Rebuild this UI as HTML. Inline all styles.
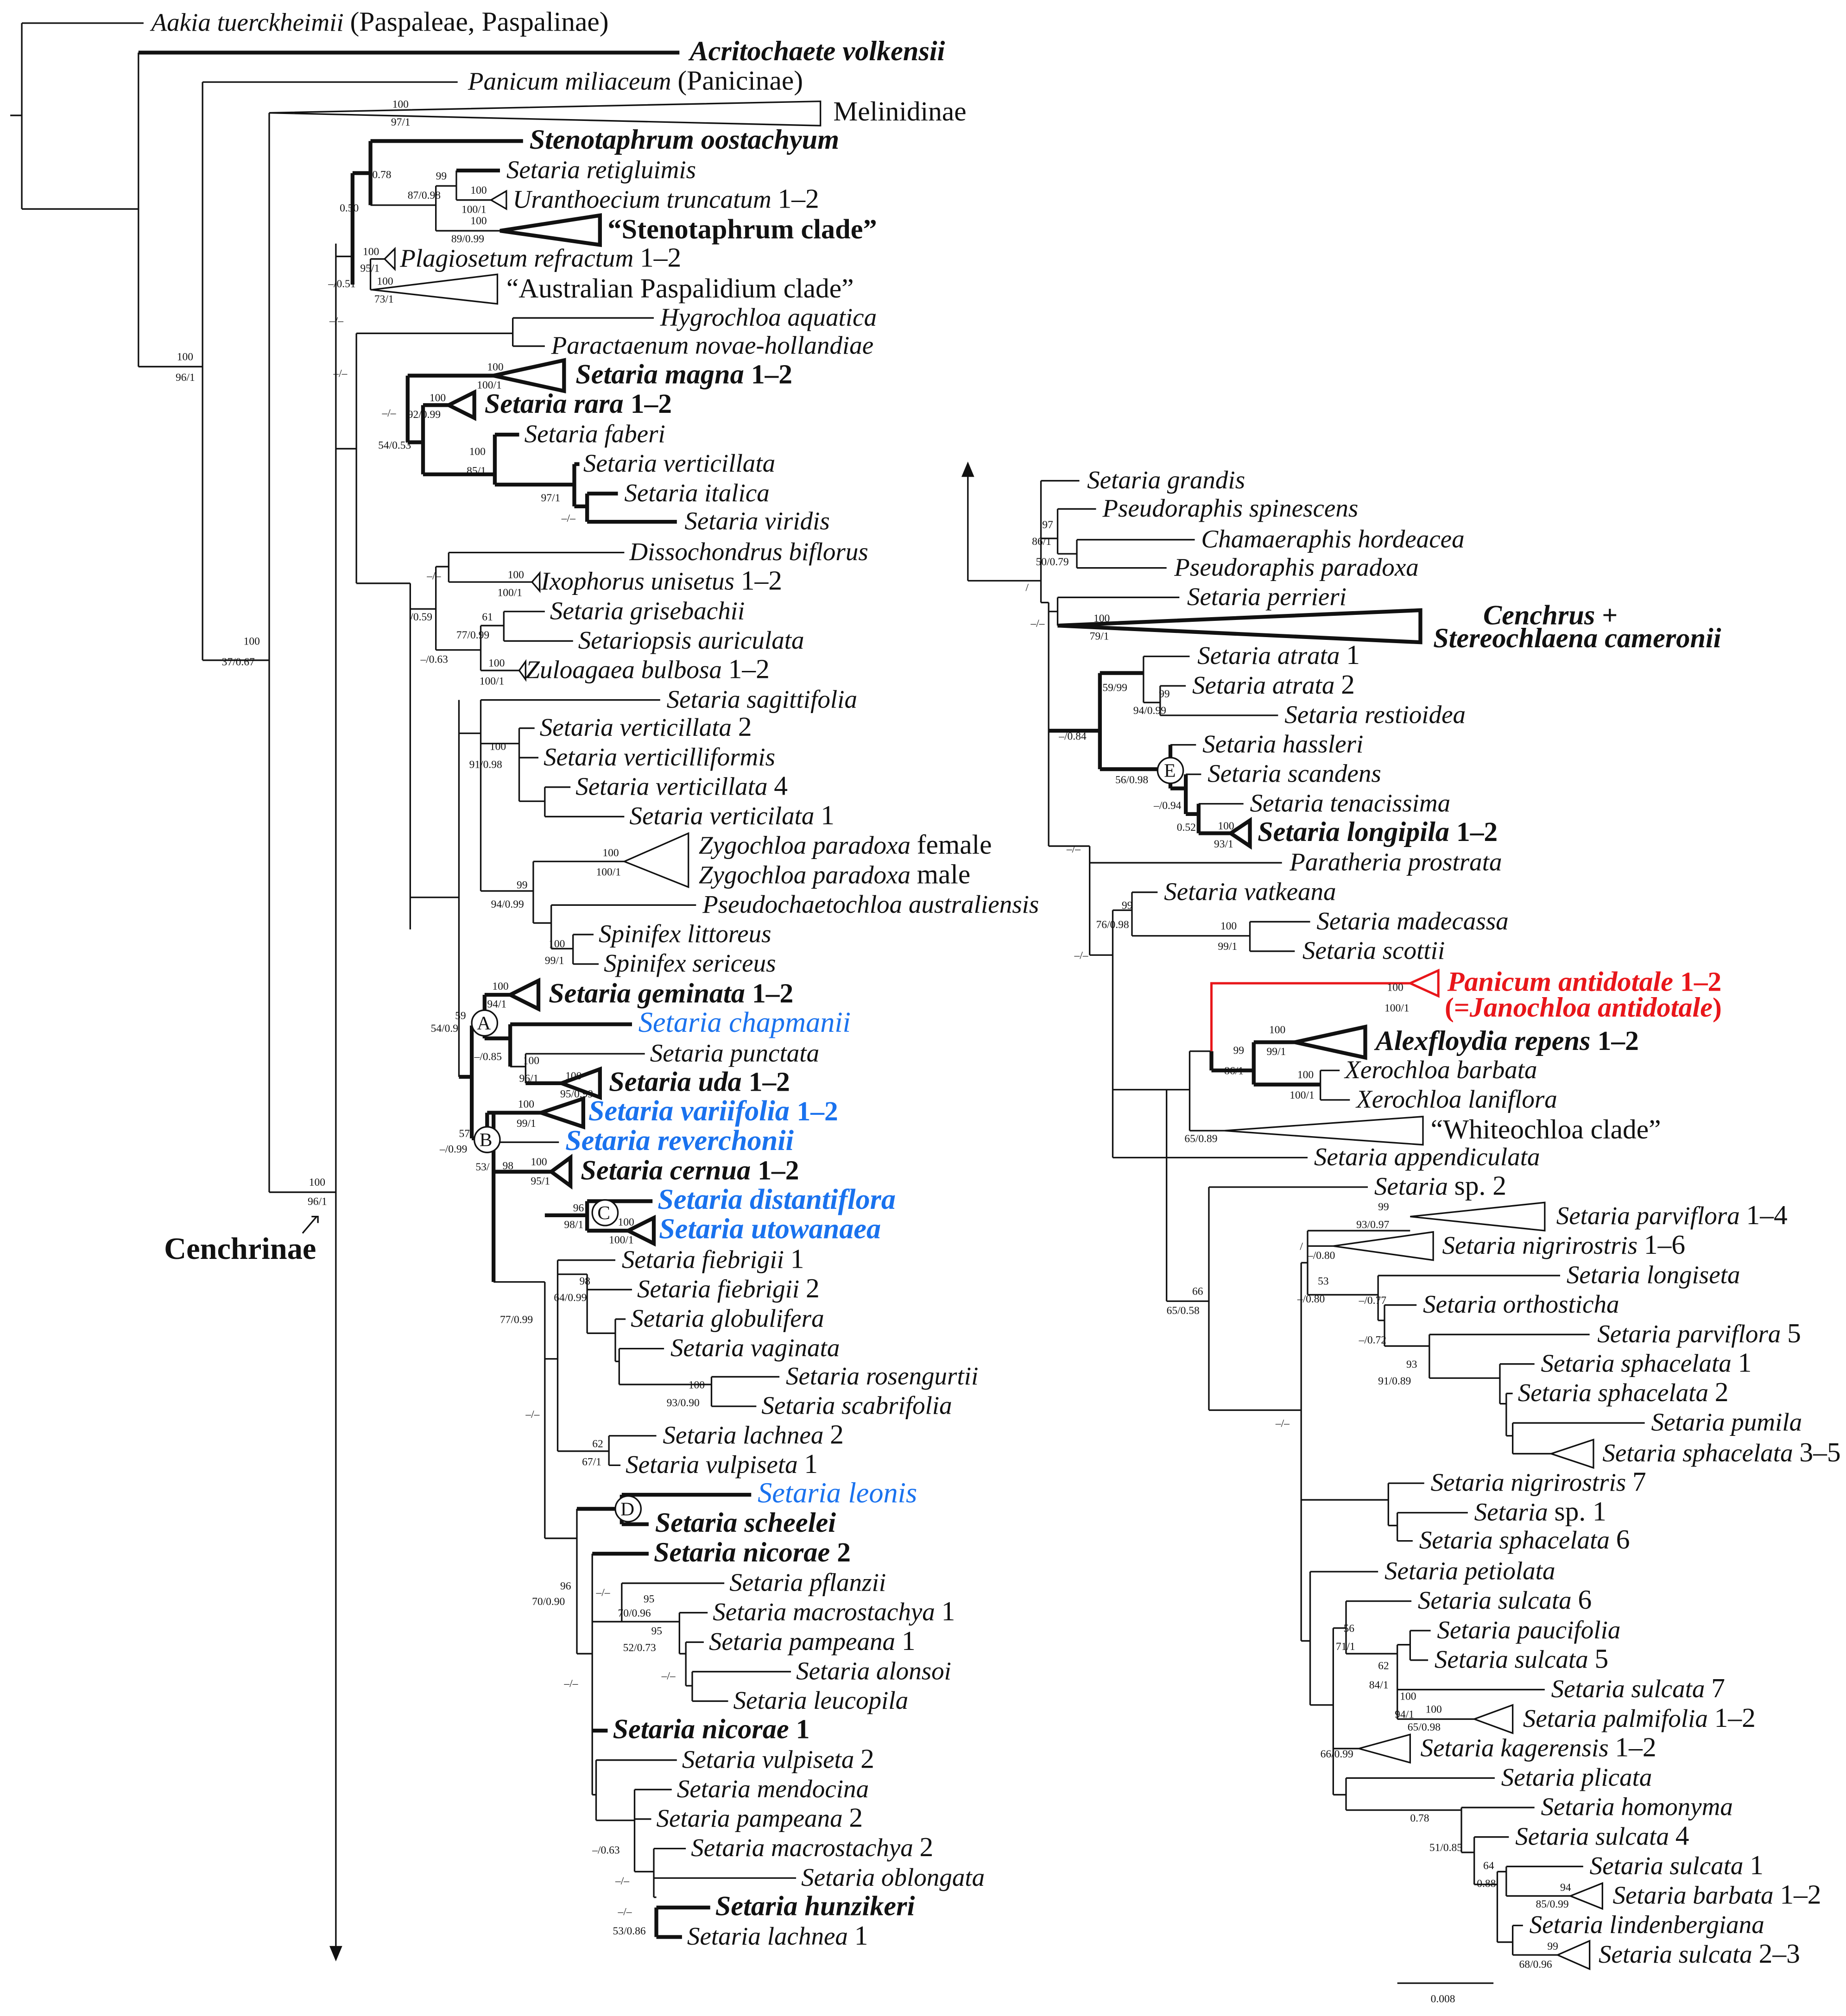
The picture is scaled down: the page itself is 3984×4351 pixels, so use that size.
<!DOCTYPE html>
<html><head><meta charset="utf-8"><style>
html,body{margin:0;padding:0;background:#fff}
svg{display:block}
text{font-family:"Liberation Serif",serif;font-size:19.9px;font-style:italic;fill:#111}
.n{font-style:normal;font-size:21.5px}
.b{font-weight:bold;font-size:21.8px}
.s{font-size:8.5px;font-style:normal}
.bl{fill:#1a72ee;font-weight:bold;font-size:22.5px}
.rd{fill:#e8161a;font-weight:bold;font-size:21.8px}
</style></head><body>
<svg width="3984" height="4351" viewBox="0 0 1440 1572.6" xmlns="http://www.w3.org/2000/svg">
<g fill="none" stroke="#111" stroke-width="1.2">
<path d="M17 18V163M8 90H17M17 18H112M17 163H108M108 41V286M108 286H158M158 64V515M158 64H357M158 515H210M210 88V930M210 930H262M262 190V1522M262 200H275"/>
<path d="M289 202V226M289 202H300M289 226H290M289 160H340M340 145V180M340 145H356M356 133V156M356 156H383M340 180H390M278 260V455M262 350H278M278 260H400M400 248V270M400 248H510M400 270H425"/>
<path d="M278 455H320M320 455V725M320 475H340M340 442V507M340 442H350M350 431V454M350 431H487M350 454H415M340 507H375M375 488V523M375 488H393M393 477V500M393 477H425M393 500H447M375 523H405"/>
<path d="M320 700H358M358 546V840M358 572H375M375 546V695M375 546H515M375 580H405M405 568V625M405 568H417M405 591H420M405 625H425M425 614V637M425 614H445M425 637H487M375 695H416M416 672V720M416 672H487M416 720H430M430 706V740M430 706H543M430 740H447M447 729V752M447 729H463M447 752H467"/>
<path d="M398 832H410M410 822V845M410 822H503M385 891H436M385 1000H425M425 1000V1200M425 1060H435M435 983V1132M435 983H480M435 994H458M458 994V1040M458 1006H493M458 1040H480M480 1029V1062M480 1029H488M480 1062H483M483 1052V1080M483 1052H518M483 1080H555M555 1074V1097M555 1074H608M555 1097H590M435 1132H475M475 1120V1143M475 1120H512M475 1143H484"/>
<path d="M425 1200H450M450 1177V1290M450 1290H462M462 1212V1400M462 1265H485M485 1235V1265M485 1235H565M485 1265H530M530 1258V1290M530 1258H552M530 1290H535M535 1281V1315M535 1281H549M535 1315H540M540 1304V1327M540 1304H617M540 1327H568M462 1400H465M465 1373V1420M465 1373H528M465 1420H495M495 1396V1460M495 1396H524M495 1419H508M495 1460H510M510 1442V1480M510 1442H535M510 1465H621M510 1480H512"/>
<path d="M755 368V453M755 453H812M812 375V470M812 375H842M812 420H825M825 397V432M825 397H855M825 432H840M840 421V443M840 421H932M840 443H910M812 470H818M818 470V660M818 477H825M825 466V488M825 466H920"/>
<path d="M892 512V548M892 512H928M892 548H905M905 535V558M905 535H925M905 558H997M913 581H933M925 604H937M935 627H970"/>
<path d="M818 660H850M850 660V745M850 673H1000M850 745H868M868 710V903M868 710H883M883 696V730M883 696H903M883 730H975M975 719V742M975 719H1022M975 742H1010M868 850H910M910 850V1015M910 850H928M928 820V882M928 820H945M928 882H955M1030 835V858M1030 835H1045M1030 858H1053M868 903H1020"/>
<path d="M910 1015H943M943 926V1100M943 926H1067M943 1100H1015M1015 985V1280M1015 985H1020M1020 960V1010M1020 960H1100M1020 972H1040M1020 1010H1075M1075 995V1030M1075 995H1217M1075 1030H1080M1080 1018V1050M1080 1018H1105M1080 1050H1115M1115 1041V1075M1115 1041H1240M1115 1075H1170M1170 1064V1095M1170 1064H1197M1170 1095H1175M1175 1087V1120M1175 1087H1180M1175 1120H1180M1180 1110V1134M1180 1110H1283M1180 1134H1210"/>
<path d="M1015 1170H1083M1083 1157V1190M1083 1157H1111M1083 1190H1090M1090 1180V1202M1090 1180H1145M1090 1202H1102M1015 1280H1022M1022 1226V1330M1022 1226H1075M1022 1330H1040M1040 1270V1400M1040 1270H1050M1050 1249V1290M1050 1249H1101M1050 1290H1090M1090 1283V1341M1090 1283H1100M1100 1272V1295M1100 1272H1116M1100 1295H1114M1090 1318H1205M1090 1341H1150M1040 1364H1060M1040 1400H1050M1050 1387V1412M1050 1387H1166M1050 1412H1140M1140 1410V1445M1140 1410H1197M1140 1445H1150M1150 1433V1470M1150 1433H1177M1150 1470H1168M1168 1460V1515M1168 1460H1175M1175 1456V1479M1175 1456H1235M1175 1479H1225M1168 1515H1180M1180 1502V1525M1180 1502H1188M1180 1525H1215"/>
<path d="M1090 1547H1165"/>
</g>
<g fill="none" stroke="#111" stroke-width="3">
<path d="M108 41H530M289 110V160M289 110H408M275 135H289M275 135V222M356 133H390M318 293V345M318 293H385M318 345H330M330 316V370M330 316H350M330 370H386M386 339V378M386 339H405M386 378H448M448 362V395M448 362H452M448 395H458M458 385V407M458 385H482M458 407H528"/>
<path d="M358 840H368M368 800V888M368 800H378M378 776V810M378 776H398M378 810H398M398 799V832M398 799H493M410 845H438M368 888H380M380 868V888M380 868H422M385 868V1000M385 914H430M425 948H458M458 937V960M458 937H509M458 960H490M450 1177H485M485 1166V1189M485 1166H586M485 1189H506M462 1212H506M462 1350H474M512 1488V1511M512 1488H554M512 1511H532"/>
<path d="M825 488H1108M858 525V600M818 570H858M858 525H892M858 600H913M913 581V615M913 615H925M925 604V635M925 635H935M935 627V650M935 650H960M945 820V835M945 835H978M978 813V846M978 813H1010M978 846H1030"/>
</g>
<g fill="#fff" stroke="#111" stroke-width="1.2">
<polygon points="640,79 640,98 210,88"/>
<polygon points="383,156 395,149 395,163"/>
<polygon points="300,202 308,194 308,210"/>
<polygon points="290,226 388,214 388,237"/>
<polygon points="415,454 421,447 421,461"/>
<polygon points="405,523 410,516 410,530"/>
<polygon points="487,672 537,650 537,692"/>
<polygon points="955,882 1110,871 1110,893"/>
<polygon points="1100,949 1205,938 1205,960"/>
<polygon points="1040,972 1118,961 1118,983"/>
<polygon points="1210,1134 1243,1123 1243,1145"/>
<polygon points="1150,1341 1180,1330 1180,1352"/>
<polygon points="1060,1364 1100,1353 1100,1375"/>
<polygon points="1225,1479 1250,1469 1250,1489"/>
<polygon points="1215,1525 1240,1514 1240,1536"/>
</g>
<g fill="#fff" stroke="#111" stroke-width="3">
<polygon points="390,180 468,168 468,191"/>
<polygon points="385,293 440,281 440,305"/>
<polygon points="350,316 370,306 370,326"/>
<polygon points="398,776 420,765 420,787"/>
<polygon points="438,845 468,834 468,856"/>
<polygon points="422,868 455,857 455,879"/>
<polygon points="430,914 445,903 445,925"/>
<polygon points="490,960 510,950 510,970"/>
<polygon points="825,488 1108,476 1108,501"/>
<polygon points="960,650 975,640 975,660"/>
<polygon points="1010,813 1065,801 1065,825"/>
</g>
<path d="M945 820V767H1100" fill="none" stroke="#e8161a" stroke-width="1.8"/>
<polygon points="1100,767 1122,757 1122,777" fill="#fff" stroke="#e8161a" stroke-width="1.8"/>
<polygon points="262,1530 257,1518 267,1518" fill="#111"/>
<polygon points="755,360 750,372 760,372" fill="#111"/>
<path d="M236 962L247 949M243 949H248V954" fill="none" stroke="#111" stroke-width="1.2"/>
<g fill="#fff" stroke="#111" stroke-width="1.2">
<circle cx="378" cy="798" r="10"/><circle cx="380" cy="889" r="10"/><circle cx="472" cy="946" r="10"/><circle cx="490" cy="1177" r="10"/><circle cx="913" cy="601" r="10"/>
</g>
<text class="n" x="372" y="803" style="font-size:15px">A</text><text class="n" x="374" y="894" style="font-size:15px">B</text><text class="n" x="466" y="951" style="font-size:15px">C</text><text class="n" x="484" y="1182" style="font-size:15px">D</text><text class="n" x="908" y="606" style="font-size:15px">E</text>
<text x="118" y="24">Aakia tuerckheimii <tspan class="n">(Paspaleae, Paspalinae)</tspan></text>
<text class="b" x="538" y="47">Acritochaete volkensii</text>
<text x="365" y="70">Panicum miliaceum <tspan class="n">(Panicinae)</tspan></text>
<text class="n" x="650" y="94">Melinidinae</text>
<text class="b" x="413" y="116">Stenotaphrum oostachyum</text>
<text x="395" y="139">Setaria retigluimis</text>
<text x="400" y="162">Uranthoecium truncatum <tspan class="n">1–2</tspan></text>
<text class="n b" x="474" y="186">“Stenotaphrum clade”</text>
<text x="312" y="208">Plagiosetum refractum <tspan class="n">1–2</tspan></text>
<text class="n" x="395" y="232">“Australian Paspalidium clade”</text>
<text x="515" y="254">Hygrochloa aquatica</text>
<text x="430" y="276">Paractaenum novae-hollandiae</text>
<text class="b" x="449" y="299">Setaria magna <tspan class="n">1–2</tspan></text>
<text class="b" x="378" y="322">Setaria rara <tspan class="n">1–2</tspan></text>
<text x="409" y="345">Setaria faberi</text>
<text x="455" y="368">Setaria verticillata</text>
<text x="487" y="391">Setaria italica</text>
<text x="534" y="413">Setaria viridis</text>
<text x="491" y="437">Dissochondrus biflorus</text>
<text x="422" y="460">Ixophorus unisetus <tspan class="n">1–2</tspan></text>
<text x="429" y="483">Setaria grisebachii</text>
<text x="451" y="506">Setariopsis auriculata</text>
<text x="410" y="529">Zuloagaea bulbosa <tspan class="n">1–2</tspan></text>
<text x="520" y="552">Setaria sagittifolia</text>
<text x="421" y="574">Setaria verticillata <tspan class="n">2</tspan></text>
<text x="424" y="597">Setaria verticilliformis</text>
<text x="449" y="620">Setaria verticillata <tspan class="n">4</tspan></text>
<text x="491" y="643">Setaria verticilata <tspan class="n">1</tspan></text>
<text x="545" y="666">Zygochloa paradoxa <tspan class="n">female</tspan></text>
<text x="545" y="689">Zygochloa paradoxa <tspan class="n">male</tspan></text>
<text x="548" y="712">Pseudochaetochloa australiensis</text>
<text x="467" y="735">Spinifex littoreus</text>
<text x="471" y="758">Spinifex sericeus</text>
<text class="b" x="428" y="782">Setaria geminata <tspan class="n">1–2</tspan></text>
<text class="bl" x="498" y="805" style="font-weight:normal">Setaria chapmanii</text>
<text x="507" y="828">Setaria punctata</text>
<text class="b" x="475" y="851">Setaria uda <tspan class="n">1–2</tspan></text>
<text class="bl" x="459" y="874">Setaria variifolia <tspan class="n">1–2</tspan></text>
<text class="bl" x="441" y="897">Setaria reverchonii</text>
<text class="b" x="453" y="920">Setaria cernua <tspan class="n">1–2</tspan></text>
<text class="bl" x="513" y="943">Setaria distantiflora</text>
<text class="bl" x="514" y="966">Setaria utowanaea</text>
<text x="485" y="989">Setaria fiebrigii <tspan class="n">1</tspan></text>
<text x="497" y="1012">Setaria fiebrigii <tspan class="n">2</tspan></text>
<text x="492" y="1035">Setaria globulifera</text>
<text x="523" y="1058">Setaria vaginata</text>
<text x="613" y="1080">Setaria rosengurtii</text>
<text x="594" y="1103">Setaria scabrifolia</text>
<text x="517" y="1126">Setaria lachnea <tspan class="n">2</tspan></text>
<text x="488" y="1149">Setaria vulpiseta <tspan class="n">1</tspan></text>
<text class="bl" x="591" y="1172" style="font-weight:normal">Setaria leonis</text>
<text class="b" x="511" y="1195">Setaria scheelei</text>
<text class="b" x="510" y="1218">Setaria nicorae <tspan class="n">2</tspan></text>
<text x="569" y="1241">Setaria pflanzii</text>
<text x="556" y="1264">Setaria macrostachya <tspan class="n">1</tspan></text>
<text x="553" y="1287">Setaria pampeana <tspan class="n">1</tspan></text>
<text x="621" y="1310">Setaria alonsoi</text>
<text x="572" y="1333">Setaria leucopila</text>
<text class="b" x="478" y="1356">Setaria nicorae <tspan class="n">1</tspan></text>
<text x="532" y="1379">Setaria vulpiseta <tspan class="n">2</tspan></text>
<text x="528" y="1402">Setaria mendocina</text>
<text x="512" y="1425">Setaria pampeana <tspan class="n">2</tspan></text>
<text x="539" y="1448">Setaria macrostachya <tspan class="n">2</tspan></text>
<text x="625" y="1471">Setaria oblongata</text>
<text class="b" x="558" y="1494">Setaria hunzikeri</text>
<text x="536" y="1517">Setaria lachnea <tspan class="n">1</tspan></text>
<text class="n b" x="128" y="982" style="font-size:24px">Cenchrinae</text>
<text x="848" y="381">Setaria grandis</text>
<text x="860" y="403">Pseudoraphis spinescens</text>
<text x="937" y="427">Chamaeraphis hordeacea</text>
<text x="916" y="449">Pseudoraphis paradoxa</text>
<text x="926" y="472">Setaria perrieri</text>
<text class="b" x="1157" y="487">Cenchrus <tspan class="n">+</tspan></text>
<text class="b" x="1118" y="505">Stereochlaena cameronii</text>
<text x="934" y="518">Setaria atrata <tspan class="n">1</tspan></text>
<text x="930" y="541">Setaria atrata <tspan class="n">2</tspan></text>
<text x="1002" y="564">Setaria restioidea</text>
<text x="938" y="587">Setaria hassleri</text>
<text x="942" y="610">Setaria scandens</text>
<text x="975" y="633">Setaria tenacissima</text>
<text class="b" x="981" y="656">Setaria longipila <tspan class="n">1–2</tspan></text>
<text x="1006" y="679">Paratheria prostrata</text>
<text x="908" y="702">Setaria vatkeana</text>
<text x="1027" y="725">Setaria madecassa</text>
<text x="1016" y="748">Setaria scottii</text>
<text class="rd" x="1129" y="773">Panicum antidotale <tspan class="n">1–2</tspan></text>
<text class="rd" x="1127" y="793"><tspan class="n">(=</tspan>Janochloa antidotale<tspan class="n">)</tspan></text>
<text class="b" x="1073" y="819">Alexfloydia repens <tspan class="n">1–2</tspan></text>
<text x="1049" y="841">Xerochloa barbata</text>
<text x="1058" y="864">Xerochloa laniflora</text>
<text class="n" x="1116" y="888">“Whiteochloa clade”</text>
<text x="1025" y="909">Setaria appendiculata</text>
<text x="1072" y="932">Setaria <tspan class="n">sp. 2</tspan></text>
<text x="1214" y="955">Setaria parviflora <tspan class="n">1–4</tspan></text>
<text x="1125" y="978">Setaria nigrirostris <tspan class="n">1–6</tspan></text>
<text x="1222" y="1001">Setaria longiseta</text>
<text x="1110" y="1024">Setaria orthosticha</text>
<text x="1246" y="1047">Setaria parviflora <tspan class="n">5</tspan></text>
<text x="1202" y="1070">Setaria sphacelata <tspan class="n">1</tspan></text>
<text x="1184" y="1093">Setaria sphacelata <tspan class="n">2</tspan></text>
<text x="1288" y="1116">Setaria pumila</text>
<text x="1250" y="1140">Setaria sphacelata <tspan class="n">3–5</tspan></text>
<text x="1116" y="1163">Setaria nigrirostris <tspan class="n">7</tspan></text>
<text x="1150" y="1186">Setaria <tspan class="n">sp. 1</tspan></text>
<text x="1107" y="1208">Setaria sphacelata <tspan class="n">6</tspan></text>
<text x="1080" y="1232">Setaria petiolata</text>
<text x="1106" y="1255">Setaria sulcata <tspan class="n">6</tspan></text>
<text x="1121" y="1278">Setaria paucifolia</text>
<text x="1119" y="1301">Setaria sulcata <tspan class="n">5</tspan></text>
<text x="1210" y="1324">Setaria sulcata <tspan class="n">7</tspan></text>
<text x="1188" y="1347">Setaria palmifolia <tspan class="n">1–2</tspan></text>
<text x="1108" y="1370">Setaria kagerensis <tspan class="n">1–2</tspan></text>
<text x="1171" y="1393">Setaria plicata</text>
<text x="1202" y="1416">Setaria homonyma</text>
<text x="1182" y="1439">Setaria sulcata <tspan class="n">4</tspan></text>
<text x="1240" y="1462">Setaria sulcata <tspan class="n">1</tspan></text>
<text x="1258" y="1485">Setaria barbata <tspan class="n">1–2</tspan></text>
<text x="1193" y="1508">Setaria lindenbergiana</text>
<text x="1247" y="1531">Setaria sulcata <tspan class="n">2–3</tspan></text>
<g>
<text class="s" x="1116" y="1562">0.008</text>
<text class="s" x="306" y="84">100</text><text class="s" x="305" y="98">97/1</text>
<text class="s" x="138" y="281">100</text><text class="s" x="137" y="297">96/1</text>
<text class="s" x="190" y="503">100</text><text class="s" x="173" y="519">37/0.67</text>
<text class="s" x="241" y="925">100</text><text class="s" x="240" y="940">96/1</text>
<text class="s" x="288" y="139">/0.78</text><text class="s" x="340" y="140">99</text><text class="s" x="318" y="155">87/0.98</text>
<text class="s" x="367" y="151">100</text><text class="s" x="360" y="166">100/1</text>
<text class="s" x="367" y="175">100</text><text class="s" x="352" y="189">89/0.99</text>
<text class="s" x="265" y="165">0.50</text>
<text class="s" x="283" y="199">100</text><text class="s" x="281" y="212">95/1</text>
<text class="s" x="256" y="224">–/0.51</text><text class="s" x="294" y="222">100</text><text class="s" x="292" y="236">73/1</text>
<text class="s" x="257" y="253">–/–</text><text class="s" x="260" y="294">–/–</text>
<text class="s" x="380" y="289">100</text><text class="s" x="372" y="303">100/1</text>
<text class="s" x="335" y="313">100</text><text class="s" x="298" y="325">–/–</text><text class="s" x="318" y="326">92/0.99</text>
<text class="s" x="295" y="350">54/0.53</text><text class="s" x="366" y="355">100</text><text class="s" x="364" y="370">85/1</text>
<text class="s" x="422" y="391">97/1</text><text class="s" x="438" y="407">–/–</text>
<text class="s" x="333" y="452">–/–</text><text class="s" x="396" y="451">100</text><text class="s" x="388" y="465">100/1</text>
<text class="s" x="320" y="484">/0.59</text><text class="s" x="376" y="484">61</text><text class="s" x="356" y="498">77/0.99</text>
<text class="s" x="328" y="517">–/0.63</text><text class="s" x="381" y="520">100</text><text class="s" x="374" y="534">100/1</text>
<text class="s" x="382" y="585">100</text><text class="s" x="366" y="599">91/0.98</text>
<text class="s" x="470" y="668">100</text><text class="s" x="465" y="683">100/1</text>
<text class="s" x="403" y="693">99</text><text class="s" x="383" y="708">94/0.99</text>
<text class="s" x="428" y="739">100</text><text class="s" x="425" y="752">99/1</text>
<text class="s" x="384" y="772">100</text><text class="s" x="380" y="786">94/1</text>
<text class="s" x="355" y="795">59</text><text class="s" x="336" y="805">54/0.9</text>
<text class="s" x="370" y="827">–/0.85</text><text class="s" x="408" y="830">100</text><text class="s" x="405" y="844">96/1</text>
<text class="s" x="441" y="842">100</text><text class="s" x="437" y="856">95/0.99</text>
<text class="s" x="404" y="864">100</text><text class="s" x="403" y="879">99/1</text>
<text class="s" x="358" y="887">57</text><text class="s" x="343" y="899">–/0.99</text><text class="s" x="371" y="913">53/</text>
<text class="s" x="392" y="912">98</text><text class="s" x="414" y="909">100</text><text class="s" x="414" y="924">95/1</text>
<text class="s" x="447" y="945">96</text><text class="s" x="440" y="958">98/1</text><text class="s" x="482" y="956">100</text><text class="s" x="475" y="970">100/1</text>
<text class="s" x="390" y="1032">77/0.99</text><text class="s" x="452" y="1002">98</text><text class="s" x="432" y="1015">64/0.99</text>
<text class="s" x="537" y="1083">100</text><text class="s" x="520" y="1097">93/0.90</text>
<text class="s" x="462" y="1129">62</text><text class="s" x="454" y="1143">67/1</text><text class="s" x="410" y="1106">–/–</text>
<text class="s" x="437" y="1240">96</text><text class="s" x="415" y="1252">70/0.90</text>
<text class="s" x="465" y="1245">–/–</text><text class="s" x="502" y="1250">95</text><text class="s" x="482" y="1261">70/0.96</text>
<text class="s" x="508" y="1275">95</text><text class="s" x="486" y="1288">52/0.73</text><text class="s" x="516" y="1310">–/–</text>
<text class="s" x="440" y="1316">–/–</text><text class="s" x="462" y="1446">–/0.63</text><text class="s" x="480" y="1470">–/–</text>
<text class="s" x="482" y="1494">–/–</text><text class="s" x="478" y="1509">53/0.86</text>
<text class="s" x="813" y="412">97</text><text class="s" x="805" y="425">86/1</text><text class="s" x="808" y="441">50/0.79</text>
<text class="s" x="800" y="461">/</text><text class="s" x="804" y="489">–/–</text>
<text class="s" x="853" y="485">100</text><text class="s" x="850" y="499">79/1</text>
<text class="s" x="860" y="539">59/99</text><text class="s" x="904" y="544">99</text><text class="s" x="884" y="557">94/0.99</text>
<text class="s" x="826" y="577">–/0.84</text><text class="s" x="870" y="611">56/0.98</text>
<text class="s" x="900" y="631">–/0.94</text><text class="s" x="918" y="648">0.52</text><text class="s" x="950" y="647">100</text><text class="s" x="947" y="661">93/1</text>
<text class="s" x="832" y="665">–/–</text><text class="s" x="875" y="709">99</text><text class="s" x="855" y="724">76/0.98</text>
<text class="s" x="952" y="725">100</text><text class="s" x="950" y="741">99/1</text><text class="s" x="838" y="748">–/–</text>
<text class="s" x="1082" y="773">100</text><text class="s" x="1080" y="789">100/1</text>
<text class="s" x="962" y="822">99</text><text class="s" x="955" y="838">86/1</text><text class="s" x="990" y="806">100</text><text class="s" x="988" y="823">99/1</text>
<text class="s" x="1012" y="841">100</text><text class="s" x="1006" y="857">100/1</text><text class="s" x="924" y="891">65/0.89</text>
<text class="s" x="1075" y="944">99</text><text class="s" x="1058" y="958">93/0.97</text>
<text class="s" x="1014" y="975">/</text><text class="s" x="1020" y="982">–/0.80</text>
<text class="s" x="1028" y="1002">53</text><text class="s" x="1012" y="1016">–/0.80</text>
<text class="s" x="1060" y="1017">–/0.77</text><text class="s" x="1060" y="1048">–/0.72</text>
<text class="s" x="1097" y="1067">93</text><text class="s" x="1075" y="1080">91/0.89</text>
<text class="s" x="930" y="1010">66</text><text class="s" x="910" y="1025">65/0.58</text><text class="s" x="995" y="1113">–/–</text>
<text class="s" x="1048" y="1273">56</text><text class="s" x="1042" y="1287">71/1</text><text class="s" x="1075" y="1302">62</text><text class="s" x="1068" y="1317">84/1</text>
<text class="s" x="1092" y="1326">100</text><text class="s" x="1088" y="1340">94/1</text><text class="s" x="1112" y="1336">100</text><text class="s" x="1098" y="1350">65/0.98</text>
<text class="s" x="1030" y="1371">66/0.99</text><text class="s" x="1100" y="1421">0.78</text><text class="s" x="1115" y="1444">51/0.85</text>
<text class="s" x="1157" y="1458">64</text><text class="s" x="1152" y="1472">0.88</text><text class="s" x="1217" y="1475">94</text><text class="s" x="1198" y="1488">85/0.99</text>
<text class="s" x="1207" y="1521">99</text><text class="s" x="1185" y="1535">68/0.96</text>
</g>
</svg>
</body></html>
